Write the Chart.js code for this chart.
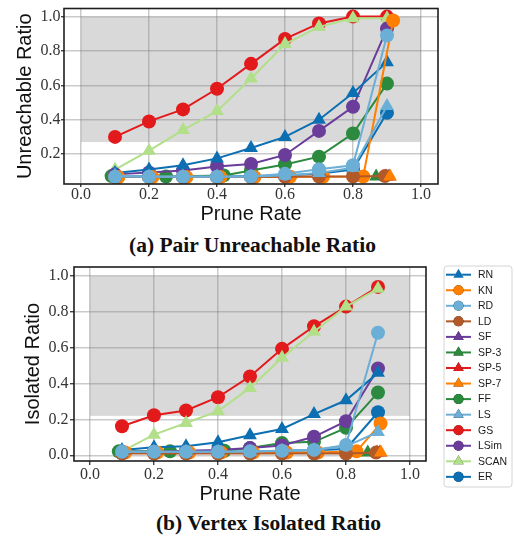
<!DOCTYPE html>
<html><head><meta charset="utf-8">
<script src="https://cdn.jsdelivr.net/npm/chart.js@4.4.1/dist/chart.umd.min.js"></script>
<style>
html,body{margin:0;padding:0;background:#fff;width:514px;height:539px;overflow:hidden;}
.wrap{position:absolute;left:0;width:514px;}
.cap{position:absolute;font-family:'Liberation Serif','Times New Roman',serif;font-weight:bold;font-size:21.5px;line-height:24px;color:#111;text-align:center;white-space:nowrap;}
</style></head><body>
<div class="wrap" style="top:0;height:230px;"><canvas id="cA" width="514" height="230"></canvas></div>
<div class="cap" style="left:0;width:505px;top:233px;">(a) Pair Unreachable Ratio</div>
<div class="wrap" style="top:250px;height:259px;"><canvas id="cB" width="514" height="259"></canvas></div>
<div class="cap" style="left:23px;width:491px;top:511px;">(b) Vertex Isolated Ratio</div>
<script>
// ---------- data ----------
const seriesNames = ['RN','KN','RD','LD','SF','SP-3','SP-5','SP-7','FF','LS','GS','LSim','SCAN','ER'];
const xTicks = [0.0,0.2,0.4,0.6,0.8,1.0];
const yTicksA = [0.2,0.4,0.6,0.8,1.0];
const yTicksB = [0.0,0.2,0.4,0.6,0.8,1.0];

const rates    = [0.1,0.2,0.3,0.4,0.5,0.6,0.7,0.8,0.9];
const ldRates  = [0.1,0.2,0.3,0.4,0.5,0.6,0.7,0.8,0.894];
const knRatesA = [0.11,0.21,0.31,0.41,0.51,0.615,0.712,0.83,0.918];
const knRatesB = [0.11,0.21,0.31,0.41,0.51,0.615,0.712,0.833,0.908];
const ffRates  = [0.09,0.25,0.42,0.5,0.6,0.7,0.8,0.9];
const sfRates  = [0.906];
const sp3Rates = [0.868];
const sp5Rates = [0.897];
const sp7Rates = [0.909];

// (a) pair unreachable ratio
const rnA   = [0.09,0.11,0.135,0.175,0.235,0.30,0.40,0.555,0.735];
const knA   = [0.066,0.066,0.066,0.066,0.066,0.068,0.068,0.07,0.977];
const rdA   = [0.068,0.068,0.068,0.068,0.07,0.085,0.112,0.135,0.89];
const ldA   = [0.066,0.066,0.066,0.066,0.066,0.068,0.07,0.07,0.072];
const sfA   = [0.07];
const sp3A  = [0.07];
const sp5A  = [0.07];
const sp7A  = [0.07];
const ffA   = [0.072,0.07,0.076,0.105,0.14,0.185,0.32,0.61];
const lsA   = [0.075,0.07,0.07,0.07,0.07,0.075,0.09,0.12,0.48];
const gsA   = [0.30,0.39,0.46,0.58,0.725,0.87,0.96,1.0,1.0];
const lsimA = [0.082,0.093,0.105,0.128,0.143,0.195,0.335,0.475,0.93];
const scanA = [0.11,0.22,0.34,0.45,0.64,0.84,0.94,0.99,0.99];
const erA   = [0.068,0.068,0.068,0.068,0.072,0.075,0.085,0.11,0.44];
const shadeYA = [0.27,1.0];

// (b) vertex isolated ratio
const rnB   = [0.03,0.045,0.05,0.073,0.112,0.147,0.23,0.307,0.46];
const knB   = [0.015,0.015,0.015,0.015,0.015,0.015,0.015,0.022,0.177];
const rdB   = [0.02,0.02,0.02,0.02,0.022,0.025,0.03,0.058,0.684];
const ldB   = [0.01,0.01,0.01,0.01,0.01,0.01,0.01,0.01,0.015];
const sfB   = [0.015];
const sp3B  = [0.015];
const sp5B  = [0.015];
const sp7B  = [0.015];
const ffB   = [0.022,0.022,0.025,0.04,0.068,0.075,0.153,0.35];
const lsB   = [0.02,0.02,0.02,0.02,0.02,0.025,0.03,0.05,0.13];
const gsB   = [0.162,0.223,0.25,0.324,0.44,0.594,0.72,0.83,0.94];
const lsimB = [0.02,0.02,0.025,0.03,0.04,0.055,0.103,0.19,0.484];
const scanB = [0.022,0.115,0.18,0.246,0.376,0.544,0.69,0.83,0.93];
const erB   = [0.02,0.02,0.02,0.02,0.02,0.025,0.028,0.035,0.24];
const shadeYB = [0.22,1.0];
const shadeX = [0.0,1.0];

// ---------- styles ----------
const seriesColors = ['#0c6fb2','#ff7f00','#6baed6','#b15928','#6a3d9a','#2b8a3e','#e31a1c','#ff7f00','#2b8a3e','#6baed6','#e31a1c','#6a3d9a','#b2df8a','#0c6fb2'];
const seriesMarkers = ['triangle','circle','circle','circle','triangle','triangle','triangle','triangle','circle','triangle','circle','circle','triangle','circle'];
// stacking order, first = bottom-most
const drawOrder = ['ER','FF','GS','SCAN','LSim','SF','RN','SP-3','SP-5','KN','LD','SP-7','LS','RD'];

const xsA = [rates,knRatesA,rates,ldRates,sfRates,sp3Rates,sp5Rates,sp7Rates,ffRates,rates,rates,rates,rates,rates];
const ysA = [rnA,knA,rdA,ldA,sfA,sp3A,sp5A,sp7A,ffA,lsA,gsA,lsimA,scanA,erA];
const xsB = [rates,knRatesB,rates,ldRates,sfRates,sp3Rates,sp5Rates,sp7Rates,ffRates,rates,rates,rates,rates,rates];
const ysB = [rnB,knB,rdB,ldB,sfB,sp3B,sp5B,sp7B,ffB,lsB,gsB,lsimB,scanB,erB];

function buildSets(xs, ys){
  return seriesNames.map((name,i)=>({
    label:name,
    data: xs[i].map((x,j)=>({x:x, y:ys[i][j]})),
    borderColor: seriesColors[i],
    backgroundColor: seriesColors[i],
    pointStyle: seriesMarkers[i],
    pointRadius: seriesMarkers[i]==='triangle' ? 8 : 7,
    pointHoverRadius: seriesMarkers[i]==='triangle' ? 8 : 7,
    pointBorderWidth: 0,
    borderWidth: 2,
    tension: 0,
    fill: false,
    order: drawOrder.length - drawOrder.indexOf(name)
  }));
}

const shadePlugin = {
  id:'shade',
  beforeDraw(chart, args, opts){
    const {ctx, scales:{x,y}} = chart;
    const x0 = x.getPixelForValue(opts.xr[0]), x1 = x.getPixelForValue(opts.xr[1]);
    const y0 = y.getPixelForValue(opts.yr[0]), y1 = y.getPixelForValue(opts.yr[1]);
    ctx.save();
    ctx.fillStyle = '#d9d9d9';
    ctx.fillRect(x0, y1, x1-x0, y0-y1);
    ctx.restore();
  },
  afterDraw(chart){
    const {ctx, chartArea:a} = chart;
    ctx.save();
    ctx.strokeStyle = '#1e1e1e';
    ctx.lineWidth = 1.6;
    ctx.strokeRect(a.left, a.top, a.right-a.left, a.bottom-a.top);
    ctx.restore();
  }
};

const legendPlugin = {
  id:'sideLegend',
  afterDraw(chart, args, opts){
    if(!opts.show) return;
    const ctx = chart.ctx;
    ctx.save();
    const bx=444, by=16, bw=68, bh=221, r=3;
    ctx.beginPath();
    ctx.moveTo(bx+r,by); ctx.lineTo(bx+bw-r,by); ctx.quadraticCurveTo(bx+bw,by,bx+bw,by+r);
    ctx.lineTo(bx+bw,by+bh-r); ctx.quadraticCurveTo(bx+bw,by+bh,bx+bw-r,by+bh);
    ctx.lineTo(bx+r,by+bh); ctx.quadraticCurveTo(bx,by+bh,bx,by+bh-r);
    ctx.lineTo(bx,by+r); ctx.quadraticCurveTo(bx,by,bx+r,by);
    ctx.closePath();
    ctx.fillStyle='rgba(255,255,255,0.85)'; ctx.fill();
    ctx.strokeStyle='#d4d4d4'; ctx.lineWidth=1; ctx.stroke();
    ctx.font='10.5px "Liberation Sans", Arial, sans-serif';
    ctx.textBaseline='middle'; ctx.textAlign='left';
    chart.data.datasets.forEach((ds,i)=>{
      const yy = 24.7 + i*15.55;
      ctx.strokeStyle = ds.borderColor; ctx.lineWidth = 2;
      ctx.beginPath(); ctx.moveTo(446,yy); ctx.lineTo(471,yy); ctx.stroke();
      Chart.helpers.drawPoint(ctx, {pointStyle: ds.pointStyle, radius: ds.pointStyle==='triangle'?6:5, borderWidth:0, rotation:0}, 458.5, yy);
      ctx.fillStyle = ds.backgroundColor;
      ctx.fill();
      ctx.fillStyle='#1a1a1a';
      ctx.fillText(ds.label, 478, yy+0.5);
    });
    ctx.restore();
  }
};

function makeOptions(cfg){
  return {
    responsive:false, animation:false, devicePixelRatio:1,
    layout:{autoPadding:false, padding:{top:cfg.padTop, right:cfg.padRight, left:0, bottom:0}},
    plugins:{
      legend:{display:false}, tooltip:{enabled:false},
      shade:{xr:shadeX, yr:cfg.shadeY},
      sideLegend:{show:cfg.legend}
    },
    scales:{
      x:{
        type:'linear', min:-0.05, max:1.05,
        afterBuildTicks: s => { s.ticks = xTicks.map(v=>({value:v})); },
        afterFit: s => { s.height = cfg.xH; },
        border:{display:false},
        grid:{color:'rgba(128,128,128,0.42)', lineWidth:1.5, drawTicks:true, tickLength:cfg.tl, tickColor:'#222', tickWidth:1.2},
        ticks:{autoSkip:false, maxRotation:0, padding:cfg.xPad, color:'#333',
               font:{family:'"Liberation Serif", "Times New Roman", serif', size:16, lineHeight:1},
               callback: v => Number(v).toFixed(1)},
        title:{display:true, text:'Prune Rate', color:'#111',
               font:{family:'"Liberation Sans", Arial, sans-serif', size:20, lineHeight:1.2},
               padding:{top:0, bottom:cfg.xTitlePad}}
      },
      y:{
        type:'linear', min:cfg.ymin, max:cfg.ymax,
        afterBuildTicks: s => { s.ticks = cfg.yTicks.map(v=>({value:v})); },
        afterFit: s => { s.width = cfg.yW; },
        border:{display:false},
        grid:{color:'rgba(128,128,128,0.42)', lineWidth:1.5, drawTicks:true, tickLength:cfg.tl, tickColor:'#222', tickWidth:1.2},
        ticks:{autoSkip:false, padding:cfg.yPad, color:'#333',
               font:{family:'"Liberation Serif", "Times New Roman", serif', size:16, lineHeight:1},
               callback: v => Number(v).toFixed(1)},
        title:{display:true, text:cfg.yTitle, color:'#111',
               font:{family:'"Liberation Sans", Arial, sans-serif', size:20, lineHeight:1.2},
               padding:{top:cfg.yTitlePad, bottom:0}}
      }
    }
  };
}

new Chart(document.getElementById('cA'), {
  type:'line',
  data:{datasets: buildSets(xsA, ysA)},
  options: makeOptions({padTop:1.7, padRight:76, xH:46, yW:64, ymin:0.026, ymax:1.047,
    yTicks:yTicksA, shadeY:shadeYA, legend:false, tl:3, xPad:0, yPad:0.5,
    xTitlePad:3.5, yTitlePad:13, yTitle:'Unreachable Ratio'}),
  plugins:[shadePlugin, legendPlugin]
});

new Chart(document.getElementById('cB'), {
  type:'line',
  data:{datasets: buildSets(xsB, ysB)},
  options: makeOptions({padTop:17, padRight:88, xH:48, yW:74, ymin:-0.032, ymax:1.051,
    yTicks:yTicksB, shadeY:shadeYB, legend:true, tl:4, xPad:2, yPad:1.5,
    xTitlePad:3, yTitlePad:21, yTitle:'Isolated Ratio'}),
  plugins:[shadePlugin, legendPlugin]
});
</script>
</body></html>
